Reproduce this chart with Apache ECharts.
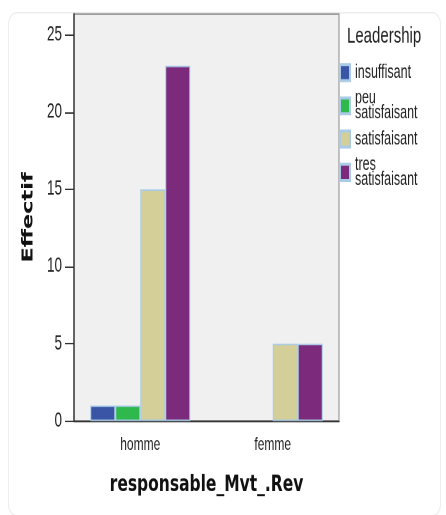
<!DOCTYPE html>
<html><head><meta charset="utf-8">
<script src="https://cdn.jsdelivr.net/npm/echarts@6/dist/echarts.min.js"></script>
<style>
html,body{margin:0;padding:0;background:#fff;overflow:hidden;width:446px;height:515px}
#c{width:446px;height:344px;transform:scaleY(1.497);transform-origin:0 0}
</style>
</head><body><div id="c"></div>
<script>
const categories = ['homme', 'femme'];
const seriesNames = ['insuffisant', 'peu satisfaisant', 'satisfaisant', 'tres satisfaisant'];
const insuffisant = [1, 0];
const peuSatisfaisant = [1, 0];
const satisfaisant = [15, 5];
const tresSatisfaisant = [23, 5];
const yTicks = [0, 5, 10, 15, 20, 25];
const colors = ['#3a55a6', '#2fb84c', '#d4cf98', '#7c2a7b'];

const values = [insuffisant, peuSatisfaisant, satisfaisant, tresSatisfaisant];
// The reference picture is stretched vertically; the chart is drawn at 446x344 and scaled in height by CSS.
const chart = echarts.init(document.getElementById('c'), null, {renderer: 'canvas', devicePixelRatio: 2});
const sans = '"Liberation Sans", Arial, sans-serif';
const boldFont = '"DejaVu Sans", Verdana, sans-serif';
chart.setOption({
  animation: false,
  graphic: [{type: 'rect', left: 6, top: 6, shape: {width: 432, height: 336, r: 8},
    style: {fill: 'none', stroke: '#ededed', lineWidth: 1}, z: -10}],
  title: {text: 'Leadership', left: 342, top: 12, textStyle: {fontFamily: sans, fontSize: 15, fontWeight: 'normal', color: '#222'}},
  legend: {
    orient: 'vertical', left: 334, top: 37, itemWidth: 10, itemHeight: 10.7, itemGap: 4.2,
    icon: 'rect',
    textStyle: {fontFamily: sans, fontSize: 12.5, color: '#222', lineHeight: 10},
    formatter: n => n.replace(' satisfaisant', '\nsatisfaisant'),
    data: seriesNames
  },
  grid: {left: 74, right: 107, top: 9.35, bottom: 62.8, show: true, backgroundColor: '#f0f0f0', borderColor: '#8a8a8a', borderWidth: 1},
  xAxis: {
    type: 'category', data: categories,
    name: 'responsable_Mvt_.Rev', nameLocation: 'middle', nameGap: 35,
    nameTextStyle: {fontFamily: boldFont, fontSize: 15.5, fontWeight: 'bold', color: '#111'},
    axisLine: {lineStyle: {color: '#333', width: 1.3}},
    axisTick: {alignWithLabel: true, length: 5, lineStyle: {color: '#333', width: 1.5}},
    axisLabel: {fontFamily: sans, fontSize: 12, color: '#222', margin: 10}
  },
  yAxis: {
    type: 'value', min: 0, max: 26.35,
    name: 'Effectif', nameLocation: 'middle', nameGap: 35, nameRotate: 90,
    nameTextStyle: {fontFamily: boldFont, fontSize: 15, fontWeight: 'bold', color: '#111'},
    axisLine: {show: true, lineStyle: {color: '#333', width: 1.5}},
    axisTick: {show: true, length: 9, lineStyle: {color: '#333'}, customValues: yTicks},
    splitLine: {show: false},
    axisLabel: {fontFamily: sans, fontSize: 13.5, color: '#222', margin: 12, customValues: yTicks}
  },
  series: seriesNames.map((n, i) => ({
    name: n, type: 'bar', barWidth: 25, barGap: '0%',
    data: values[i].map(v => v === 0 ? {value: v, itemStyle: {borderWidth: 0}} : v),
    itemStyle: {color: colors[i], borderColor: '#a9cbe6', borderWidth: 1}
  }))
});
</script></body></html>
